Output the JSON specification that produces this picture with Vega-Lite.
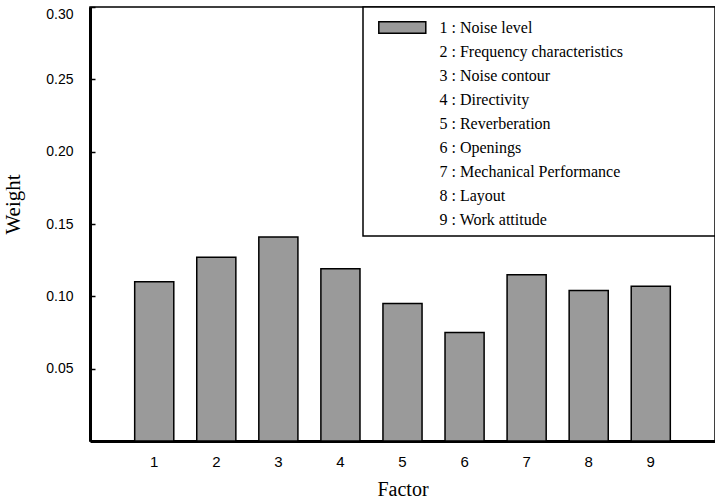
{
  "$schema": "https://vega.github.io/schema/vega-lite/v6.json",
  "width": 625,
  "height": 434,
  "autosize": "none",
  "padding": {"left": 90, "top": 7, "right": 0, "bottom": 62},
  "background": "white",
  "config": {"view": {"stroke": "black", "strokeWidth": 1.5}},
  "data": {
    "values": [
      {"factor": "1", "weight": 0.110, "label": "1 : Noise level"},
      {"factor": "2", "weight": 0.127, "label": "2 : Frequency characteristics"},
      {"factor": "3", "weight": 0.141, "label": "3 : Noise contour"},
      {"factor": "4", "weight": 0.119, "label": "4 : Directivity"},
      {"factor": "5", "weight": 0.095, "label": "5 : Reverberation"},
      {"factor": "6", "weight": 0.075, "label": "6 : Openings"},
      {"factor": "7", "weight": 0.115, "label": "7 : Mechanical Performance"},
      {"factor": "8", "weight": 0.104, "label": "8 : Layout"},
      {"factor": "9", "weight": 0.107, "label": "9 : Work attitude"}
    ]
  },
  "mark": {"type": "bar", "stroke": "black", "strokeWidth": 1.5},
  "encoding": {
    "x": {
      "field": "factor",
      "type": "ordinal",
      "title": "Factor",
      "scale": {"paddingInner": 0.37, "paddingOuter": 0.72},
      "axis": {
        "labelAngle": 0,
        "ticks": false,
        "domainColor": "black",
        "domainWidth": 3,
        "labelFont": "Liberation Sans",
        "labelFontSize": 15,
        "labelColor": "black",
        "labelPadding": 13,
        "titleFont": "Liberation Serif",
        "titleFontSize": 20,
        "titleFontWeight": "normal",
        "titleColor": "black",
        "titlePadding": 10
      }
    },
    "y": {
      "field": "weight",
      "type": "quantitative",
      "title": "Weight",
      "scale": {"domain": [0, 0.3], "nice": false},
      "axis": {
        "values": [0.05, 0.1, 0.15, 0.2, 0.25, 0.3],
        "format": ".2f",
        "grid": false,
        "domainColor": "black",
        "domainWidth": 3,
        "tickColor": "black",
        "tickWidth": 1.5,
        "tickSize": -5,
        "labelFont": "Liberation Sans",
        "labelFontSize": 14,
        "labelColor": "black",
        "labelPadding": 22,
        "labelFlush": true,
        "titleFont": "Liberation Serif",
        "titleFontSize": 21,
        "titleFontWeight": "normal",
        "titleColor": "black",
        "titlePadding": 22,
        "titleY": 197
      }
    },
    "fill": {
      "field": "label",
      "type": "nominal",
      "scale": {"range": ["#9a9a9a"]},
      "legend": {
        "orient": "none",
        "legendX": 273,
        "legendY": 0,
        "title": "\u00a0",
        "titleOrient": "right",
        "titlePadding": 84,
        "padding": 8,
        "strokeColor": "black",
        "fillColor": "white",
        "symbolType": "M-0.4,-0.5H3.6V0.5H-0.4Z",
        "symbolSize": 552,
        "symbolStrokeColor": "black",
        "symbolStrokeWidth": 1.5,
        "labelFont": "Liberation Serif",
        "labelFontSize": 16,
        "labelColor": "black",
        "labelOffset": 43.5,
        "labelLimit": 400,
        "rowPadding": 2.9,
        "encode": {
          "legend": {
            "update": {"strokeWidth": {"value": 1.5}}
          },
          "symbols": {
            "update": {
              "opacity": {"signal": "datum.value === '1 : Noise level' ? 1 : 0"}
            }
          }
        }
      }
    }
  }
}
